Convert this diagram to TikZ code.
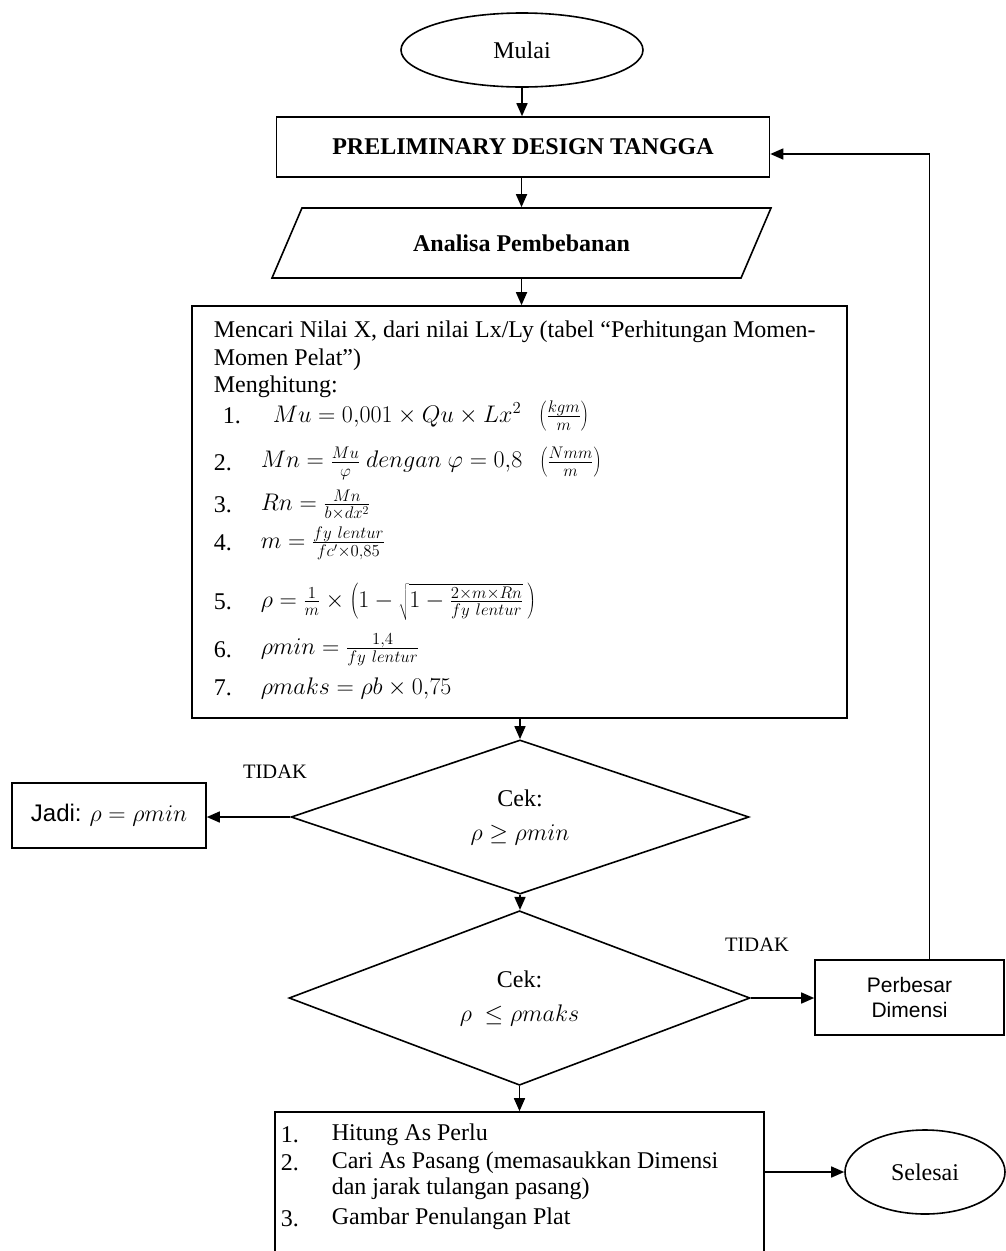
\RequirePackage{fix-cm}
\documentclass[tikz,border=0pt]{standalone}
\usepackage{fontspec}
\setmainfont{Liberation Serif}
\newfontfamily\arialf{Liberation Sans}
\usetikzlibrary{arrows.meta,shapes.geometric}
\begin{document}
\begin{tikzpicture}[x=1pt,y=-1pt,line width=1.6pt,
  arr/.style={-{Triangle[length=13pt,width=11pt]}},
  box/.style={draw,rectangle,inner sep=0pt},
  body/.style={font=\fontsize{24}{28}\selectfont,inner sep=0pt},
  bodyb/.style={font=\fontsize{24}{28}\selectfont\bfseries,inner sep=0pt},
  lbl/.style={font=\fontsize{20.5}{22}\selectfont,inner sep=0pt},
  sans/.style={font=\fontsize{21}{25}\selectfont\arialf,inner sep=0pt},
  txt/.style={body,anchor=west}]
\useasboundingbox (0,0) rectangle (1006,1251);

% terminals and boxes
\node[draw,ellipse,minimum width=242,minimum height=74,body] (mulai) at (522,50) {Mulai};
\node[box,minimum width=493,minimum height=60,bodyb] (prelim) at (523,147) {PRELIMINARY DESIGN TANGGA};
\node[draw,trapezium,trapezium left angle=29.4,trapezium right angle=150.6,trapezium stretches body,
      minimum width=499,minimum height=70,inner sep=0pt,bodyb] (ana) at (521.5,243) {Analisa Pembebanan};
\node[box,minimum width=655,minimum height=412] (calc) at (519.5,512) {};

% text of the calculation box
\node[txt] (l1) at (213,332) {Mencari Nilai X, dari nilai Lx/Ly (tabel “Perhitungan Momen-};
\node[txt] (l2) at (213,360) {Momen Pelat”)};
\node[txt] (l3) at (213,387) {Menghitung:};
\node[txt] (n1) at (222,416) {1.};
\node[txt] (f1) at (272,416) {$Mu = 0{,}001\times Qu\times Lx^2\;\;\left(\frac{kgm}{m}\right)$};
\node[txt] (n2) at (213,463) {2.};
\node[txt] (f2) at (260,463) {$Mn = \frac{Mu}{\varphi}\ dengan\ \varphi = 0{,}8\;\;\left(\frac{Nmm}{m}\right)$};
\node[txt] (n3) at (213,505) {3.};
\node[txt] (f3) at (260,505) {$Rn = \frac{Mn}{b\times dx^2}$};
\node[txt] (n4) at (213,543) {4.};
\node[txt] (f4) at (260,543) {$m = \frac{fy\ lentur}{fc'\times 0{,}85}$};
\node[txt] (n5) at (213,602) {5.};
\node[txt] (f5) at (260,602) {$\rho = \frac{1}{m}\times\left(1-\sqrt{1-\frac{2\times m\times Rn}{fy\ lentur}}\,\right)$};
\node[txt] (n6) at (213,650) {6.};
\node[txt] (f6) at (260,650) {$\rho min = \frac{1{,}4}{fy\ lentur}$};
\node[txt] (n7) at (213,688) {7.};
\node[txt] (f7) at (260,688) {$\rho maks = \rho b\times 0{,}75$};

% decisions
\node[draw,diamond,minimum width=458,minimum height=148,inner sep=0pt,body,align=center] (d1) at (520,817)
  {Cek:\\[6pt]$\rho \geq \rho min$};
\node[draw,diamond,minimum width=461,minimum height=146,inner sep=0pt,body,align=center] (d2) at (519.5,998)
  {Cek:\\[6pt]$\rho\ \leq \rho maks$};
\node[box,minimum width=194,minimum height=65,body] (jadi) at (109,815.5) {{\arialf Jadi:} $\rho = \rho min$};
\node[box,minimum width=189,minimum height=75,sans,align=center] (perb) at (909.5,997.5) {Perbesar\\Dimensi};
\node[lbl] (t1) at (275,772) {TIDAK};
\node[lbl] (t2) at (757,945) {TIDAK};

% final box and end
\node[box,minimum width=489,minimum height=156] (bot) at (519.5,1190) {};
\node[txt] (b1n) at (280,1135) {1.};
\node[txt] (b1) at (331,1135) {Hitung As Perlu};
\node[txt] (b2n) at (280,1163) {2.};
\node[txt] (b2) at (331,1163) {Cari As Pasang (memasaukkan Dimensi};
\node[txt] (b2b) at (331,1189) {dan jarak tulangan pasang)};
\node[txt] (b3n) at (280,1219) {3.};
\node[txt] (b3) at (331,1219) {Gambar Penulangan Plat};
\node[draw,ellipse,minimum width=160,minimum height=84,inner sep=0pt,body] (sel) at (925,1172) {Selesai};

% connectors
\draw[arr] (mulai.south) -- (mulai.south |- prelim.north);
\draw[arr] (ana.north |- prelim.south) -- (ana.north);
\draw[arr] (ana.south) -- (ana.south |- calc.north);
\draw[arr] (d1.north |- calc.south) -- (d1.north);
\draw[arr] (d1.west) -- (d1.west -| jadi.east);
\draw[arr] (d1.south) -- (d1.south |- d2.north);
\draw[arr] (d2.east) -- (d2.east -| perb.west);
\draw[arr] ([xshift=20pt]perb.north) |- ([yshift=-7pt]prelim.east);
\draw[arr] (d2.south) -- (d2.south |- bot.north);
\draw[arr] (bot.east |- sel.west) -- (sel.west);
\end{tikzpicture}
\end{document}
